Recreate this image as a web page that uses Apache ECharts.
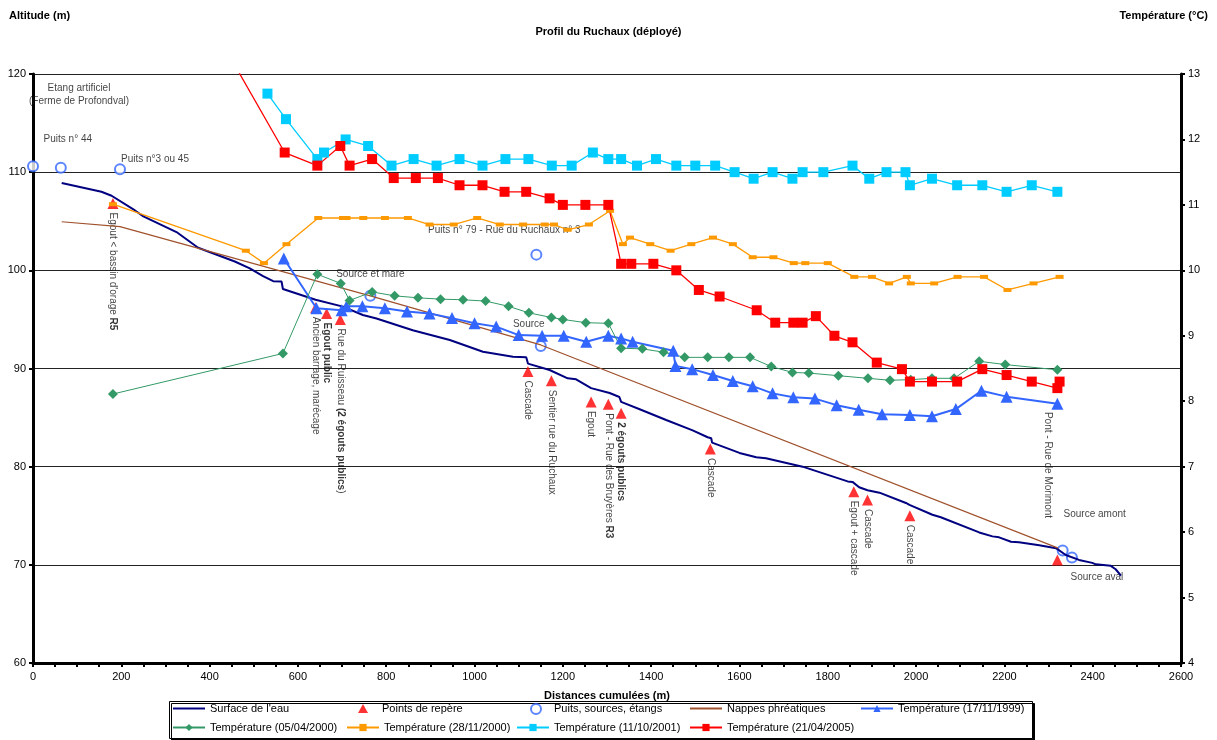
<!DOCTYPE html>
<html>
<head>
<meta charset="utf-8">
<script src="https://cdn.jsdelivr.net/npm/echarts@6/dist/echarts.min.js"></script>
<style>
  html, body { margin: 0; padding: 0; background: #fff; }
  #profil { width: 1217px; height: 740px; }
</style>
</head>
<body>
<div id="profil"></div>
<script>
// distances cumulées (m) / altitude (m)
var surface = [[65,108.9],[155,108.0],[178,107.6],[231,106.1],[250,105.5],[325,103.9],[374,102.3],[457,100.9],[491,100.2],[521,99.4],[544,98.9],[563,98.85],[566,98.1],[640,97.0],[702,96.3],[747,95.45],[778,95.1],[860,93.9],[944,92.9],[1019,91.7],[1087,91.2],[1117,91.15],[1121,90.5],[1170,89.85],[1211,89.0],[1230,88.9],[1264,88.0],[1306,87.5],[1328,87.1],[1332,86.6],[1374,85.85],[1434,84.75],[1494,83.7],[1528,83.0],[1536,82.9],[1538,82.45],[1600,81.4],[1638,80.95],[1660,80.85],[1743,80.0],[1845,78.5],[1856,78.45],[1871,77.9],[1890,77.6],[1917,77.35],[1977,76.3],[1985,76.1],[2037,75.1],[2056,74.85],[2143,73.3],[2173,72.9],[2188,72.8],[2215,72.35],[2233,72.3],[2279,72.0],[2317,71.7],[2339,71.0],[2369,70.5],[2399,70.2],[2407,70.05],[2441,69.9],[2452,69.55],[2464,68.9]]
var reperes = [[181,106.8],[640,96.2],[665,95.6],[696,95.0],[1121,89.7],[1174,88.75],[1264,86.6],[1303,86.35],[1332,85.45],[1534,81.8],[1859,77.45],[1890,76.6],[1986,75.0],[2320,70.5]]
var repereNoms = ["Egout < bassin d'orage {b|R5}", 'Ancien barrage, marécage', '{b|Egout public}', 'Rue du Ruisseau {b|(2 égouts publics}{n|)}', 'Cascade', 'Sentier rue du Ruchaux', 'Egout', 'Pont - Rue des Bruyères {b|R3}', '{b|2 égouts publics}', 'Cascade', 'Egout + cascade', 'Cascade', 'Cascade', 'Pont - Rue de Morimont']
var puits = [[0,110.6],[63,110.45],[197,110.3],[764,97.4],[1140,101.6],[1150,92.3],[2332,71.45],[2353,70.75]]
var puitsNoms = ['Etang artificiel\n(Ferme de Profondval)', 'Puits n° 44', 'Puits n°3 ou 45', 'Source et mare', 'Puits n° 79 - Rue du Ruchaux n° 3', 'Source', 'Source amont', 'Source aval']
var nappes = [[65,104.95],[197,104.45],[764,97.4],[1150,92.4],[2322,71.7]]

// températures (°C)
var t1999 = [[568,10.18],[642,9.42],[699,9.39],[710,9.45],[746,9.45],[797,9.42],[847,9.37],[898,9.34],[949,9.27],[1000,9.19],[1049,9.14],[1100,9.01],[1153,9.0],[1202,9.0],[1253,8.91],[1303,9.0],[1332,8.96],[1358,8.91],[1450,8.77],[1455,8.54],[1493,8.49],[1540,8.40],[1585,8.31],[1630,8.23],[1675,8.12],[1722,8.06],[1771,8.04],[1820,7.94],[1870,7.87],[1923,7.80],[1986,7.79],[2036,7.77],[2090,7.88],[2148,8.16],[2205,8.07],[2320,7.96]]
var t2000avr = [[181,8.11],[566,8.73],[644,9.94],[697,9.80],[717,9.54],[768,9.67],[819,9.61],[872,9.58],[923,9.56],[974,9.55],[1025,9.53],[1077,9.45],[1123,9.35],[1174,9.28],[1200,9.25],[1252,9.20],[1303,9.19],[1332,8.81],[1380,8.80],[1428,8.75],[1476,8.67],[1528,8.67],[1576,8.67],[1624,8.67],[1672,8.53],[1720,8.44],[1757,8.43],[1824,8.39],[1891,8.35],[1941,8.32],[1988,8.33],[2036,8.35],[2086,8.35],[2143,8.61],[2202,8.56],[2320,8.48]]
var t2000nov = [[181,11.01],[482,10.30],[523,10.11],[574,10.40],[646,10.80],[702,10.80],[710,10.80],[748,10.80],[797,10.80],[849,10.80],[898,10.70],[953,10.70],[1006,10.80],[1057,10.70],[1110,10.70],[1159,10.70],[1180,10.70],[1211,10.62],[1259,10.70],[1307,10.91],[1336,10.40],[1352,10.50],[1398,10.40],[1444,10.30],[1491,10.40],[1540,10.50],[1585,10.40],[1630,10.20],[1677,10.20],[1723,10.11],[1749,10.11],[1800,10.11],[1860,9.90],[1900,9.90],[1939,9.80],[1979,9.90],[1988,9.80],[2041,9.80],[2094,9.90],[2154,9.90],[2207,9.70],[2266,9.80],[2325,9.90]]
var t2001 = [[531,12.70],[573,12.31],[644,11.70],[659,11.80],[708,12.00],[759,11.90],[812,11.60],[862,11.70],[914,11.60],[966,11.70],[1018,11.60],[1070,11.70],[1122,11.70],[1175,11.60],[1220,11.60],[1268,11.80],[1303,11.70],[1332,11.70],[1368,11.60],[1411,11.70],[1457,11.60],[1500,11.60],[1545,11.60],[1589,11.50],[1632,11.40],[1675,11.50],[1720,11.40],[1743,11.50],[1790,11.50],[1856,11.60],[1894,11.40],[1933,11.50],[1976,11.50],[1986,11.30],[2036,11.40],[2093,11.30],[2150,11.30],[2205,11.20],[2262,11.30],[2320,11.20]]
var t2005 = [[443,13.3],[570,11.80],[644,11.60],[696,11.90],[717,11.60],[768,11.70],[817,11.41],[867,11.41],[917,11.41],[966,11.30],[1018,11.30],[1068,11.20],[1117,11.20],[1170,11.10],[1200,11.0],[1251,11.0],[1303,11.0],[1332,10.10],[1355,10.10],[1405,10.10],[1457,10.0],[1508,9.70],[1555,9.60],[1639,9.39],[1681,9.20],[1722,9.20],[1743,9.20],[1773,9.30],[1815,9.0],[1856,8.90],[1911,8.59],[1968,8.49],[1986,8.30],[2036,8.30],[2093,8.30],[2150,8.49],[2205,8.40],[2262,8.30],[2320,8.20],[2325,8.30]]

var font = 'Liberation Sans'
// label placement offsets (px) for the annotated points
var puitsOffsets = [[46,-72],[7,-28],[35,-10],[0,-22],[-32,-24],[-12,-22],[32,-36],[25,20]]

var chart = echarts.init(document.getElementById('profil'))

// rotated labels: offset is in the text's own frame ([along, across])
var repereData = reperes.map(function (p, i) {
  return {
    value: p,
    label: { formatter: repereNoms[i], offset: i === reperes.length - 1 ? [-148, 10] : [9, 0] }
  }
})
var puitsData = puits.map(function (p, i) {
  return { value: p, label: { formatter: puitsNoms[i], offset: puitsOffsets[i] } }
})

function tempLine(name, data, color, symbol, size, width) {
  return {
    name: name, type: 'line', yAxisIndex: 1, data: data,
    symbol: symbol, symbolSize: size, showSymbol: true,
    itemStyle: { color: color },
    lineStyle: { color: color, width: width }
  }
}

var axisTxt = { color: '#000', fontSize: 11, fontFamily: font, formatter: function (v) { return String(v) } }
var bold = { fontSize: 11, fontWeight: 'bold', color: '#000', fontFamily: font }

// one legend component per entry, to keep Excel-like columns
var legendItems = [
  { name: "Surface de l'eau", left: 172, top: 703, plain: true },
  { name: 'Points de repère', left: 358, top: 703, w: 10, h: 9, pad: 9 },
  { name: 'Puits, sources, étangs', left: 530, top: 703, w: 10, h: 10, pad: 8 },
  { name: 'Nappes phréatiques', left: 689, top: 703, plain: true },
  { name: 'Température (17/11/1999)', left: 860, top: 703 },
  { name: 'Température (05/04/2000)', left: 172, top: 722 },
  { name: 'Température (28/11/2000)', left: 346, top: 722 },
  { name: 'Température (11/10/2001)', left: 516, top: 722 },
  { name: 'Température (21/04/2005)', left: 689, top: 722 }
]

chart.setOption({
  animation: false,
  textStyle: { fontFamily: font },
  title: [
    { text: 'Profil du Ruchaux (déployé)', left: 'center', top: 21, textStyle: bold },
    { text: 'Altitude (m)', left: 4, top: 5, textStyle: bold },
    { text: 'Température (°C)', right: 4, top: 5, textStyle: bold }
  ],
  grid: { left: 33, right: 36, top: 74, bottom: 77 },
  legend: legendItems.map(function (l) {
    var item = { name: l.name }
    if (l.plain) item.itemStyle = { opacity: 0 }
    return {
      data: [item], left: l.left, top: l.top, padding: 0,
      itemWidth: l.w || 32, itemHeight: l.h || 9,
      textStyle: { fontSize: 11, color: '#000', fontFamily: font, padding: [0, 0, 0, l.pad || 0] }
    }
  }),
  graphic: [{
    type: 'rect', left: 169, top: 701, z: -1,
    shape: { width: 863, height: 37 },
    style: { fill: '#fff', stroke: '#000', lineWidth: 1, shadowColor: '#000', shadowOffsetX: 2, shadowOffsetY: 2, shadowBlur: 0 }
  }],
  xAxis: {
    type: 'value', min: 0, max: 2600, interval: 200,
    name: 'Distances cumulées (m)', nameLocation: 'middle', nameGap: 27, nameTextStyle: bold,
    axisLine: { onZero: false, lineStyle: { color: '#000', width: 3 } },
    axisTick: { length: 4, lineStyle: { color: '#000', width: 2 } },
    minorTick: { show: true, splitNumber: 4, length: 4, lineStyle: { color: '#000', width: 2 } },
    axisLabel: Object.assign({ margin: 8 }, axisTxt),
    splitLine: { show: false }
  },
  yAxis: [{
    type: 'value', min: 60, max: 120, interval: 10,
    axisLine: { show: true, onZero: false, lineStyle: { color: '#000', width: 3 } },
    axisTick: { show: true, length: 4, lineStyle: { color: '#000', width: 2 } },
    axisLabel: Object.assign({ margin: 7 }, axisTxt),
    splitLine: { show: true, lineStyle: { color: '#222', width: 1 } }
  }, {
    type: 'value', min: 4, max: 13, interval: 1, position: 'right',
    axisLine: { show: true, onZero: false, lineStyle: { color: '#000', width: 3 } },
    axisTick: { show: true, length: 4, lineStyle: { color: '#000', width: 2 } },
    axisLabel: Object.assign({ margin: 7 }, axisTxt),
    splitLine: { show: false }
  }],
  series: [
    {
      name: "Surface de l'eau", type: 'line', data: surface, symbol: 'none',
      itemStyle: { color: '#000080' }, lineStyle: { color: '#000080', width: 2 }
    },
    {
      name: 'Points de repère', type: 'scatter', data: repereData,
      symbol: 'triangle', symbolSize: 11, itemStyle: { color: '#FF0000' },
      label: {
        show: true, position: 'inside', rotate: -90, align: 'left', verticalAlign: 'middle',
        color: '#111', fontSize: 10, fontFamily: font,
        rich: {
          b: { fontWeight: 'bold', fontSize: 10, color: '#000', fontFamily: font },
          n: { fontSize: 10, color: '#111', fontFamily: font }
        }
      }
    },
    {
      name: 'Puits, sources, étangs', type: 'scatter', data: puitsData,
      symbol: 'emptyCircle', symbolSize: 10,
      itemStyle: { color: '#3366FF', borderColor: '#3366FF', borderWidth: 1.5 },
      label: {
        show: true, position: 'inside', align: 'center', verticalAlign: 'middle',
        color: '#111', fontSize: 10, lineHeight: 13, fontFamily: font
      }
    },
    {
      name: 'Nappes phréatiques', type: 'line', data: nappes, symbol: 'none',
      itemStyle: { color: '#A0522D' }, lineStyle: { color: '#A0522D', width: 1.2 }
    },
    tempLine('Température (17/11/1999)', t1999, '#3366FF', 'triangle', 12, 2),
    tempLine('Température (05/04/2000)', t2000avr, '#339966', 'diamond', 10, 1),
    tempLine('Température (28/11/2000)', t2000nov, '#FF9900', 'rect', [8, 4], 1.3),
    tempLine('Température (11/10/2001)', t2001, '#00CCFF', 'rect', 10, 1.3),
    tempLine('Température (21/04/2005)', t2005, '#FF0000', 'rect', 10, 1.3)
  ]
})
</script>
</body>
</html>
